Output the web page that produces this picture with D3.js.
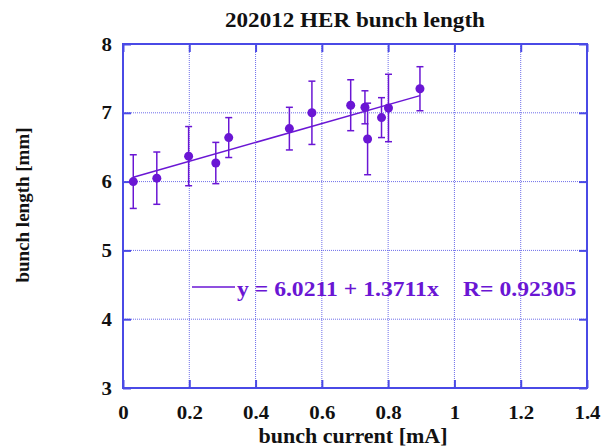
<!DOCTYPE html>
<html><head><meta charset="utf-8">
<script src="https://cdn.jsdelivr.net/npm/d3@7"></script>
<style>body{margin:0;background:#fff}svg{display:block}</style>
</head><body>
<script>
const title = "202012 HER bunch length";
const xLabel = "bunch current [mA]";
const yLabel = "bunch length [mm]";
const current = [0.031, 0.102, 0.198, 0.280, 0.319, 0.502, 0.570, 0.687, 0.730, 0.738, 0.780, 0.801, 0.896];
const length  = [6.00, 6.05, 6.37, 6.27, 6.64, 6.77, 7.00, 7.11, 7.08, 6.62, 6.93, 7.07, 7.35];
const errors  = [0.39, 0.38, 0.43, 0.30, 0.29, 0.31, 0.46, 0.37, 0.24, 0.52, 0.29, 0.49, 0.32];
const fitA = 6.0211, fitB = 1.3711, fitR = 0.92305;
const xTicks = [0, 0.2, 0.4, 0.6, 0.8, 1, 1.2, 1.4];
const yTicks = [3, 4, 5, 6, 7, 8];

const W = 602, H = 446;
const frame = "#4a4ae6", purple = "#6a16d4", serif = '"Liberation Serif", "Times New Roman", serif';
const svg = d3.select("body").append("svg").attr("width", W).attr("height", H);
const L = 123, R = 587, T = 44, B = 388;
const x = d3.scaleLinear().domain([0, 1.4]).range([L, R]);
const y = d3.scaleLinear().domain([3, 8]).range([B, T]);
const STRETCH = 1.1;
function styleText(sel, size, fill, stretch = true) {
  sel.style("font-family", serif).style("font-weight", "bold").attr("font-size", size).attr("fill", fill);
  if (stretch) sel.each(function () {
    const w = this.getComputedTextLength();
    d3.select(this).attr("textLength", w * STRETCH).attr("lengthAdjust", "spacingAndGlyphs");
  });
  return sel;
}

// grid
const g = svg.append("g");
g.selectAll(".gx").data(xTicks.slice(1, -1)).enter().append("line")
  .attr("x1", d => x(d)).attr("x2", d => x(d)).attr("y1", T).attr("y2", B)
  .attr("stroke", frame).attr("stroke-width", 1).attr("stroke-dasharray", "1,1").attr("opacity", 0.8);
g.selectAll(".gy").data(yTicks.slice(1, -1)).enter().append("line")
  .attr("y1", d => y(d)).attr("y2", d => y(d)).attr("x1", L).attr("x2", R)
  .attr("stroke", frame).attr("stroke-width", 1).attr("stroke-dasharray", "1,1").attr("opacity", 0.8);

// axes with inner ticks
const xAx = svg.append("g").attr("transform", `translate(0,${B})`)
  .call(d3.axisBottom(x).tickValues(xTicks).tickSize(-8).tickPadding(18).tickFormat(d => String(d)));
const xAxTop = svg.append("g").attr("transform", `translate(0,${T})`)
  .call(d3.axisTop(x).tickValues(xTicks).tickSize(-8).tickFormat(""));
const yAx = svg.append("g").attr("transform", `translate(${L},0)`)
  .call(d3.axisLeft(y).tickValues(yTicks).tickSize(-8).tickPadding(11).tickFormat(d3.format("d")));
const yAxR = svg.append("g").attr("transform", `translate(${R},0)`)
  .call(d3.axisRight(y).tickValues(yTicks).tickSize(-8).tickFormat(""));
[xAx, xAxTop, yAx, yAxR].forEach(a => {
  a.select(".domain").remove();
  a.selectAll(".tick line").attr("stroke", frame).attr("stroke-width", 2);
  styleText(a.selectAll("text"), 19, "#111");
});
svg.append("rect").attr("x", L).attr("y", T).attr("width", R - L).attr("height", B - T)
  .attr("fill", "none").attr("stroke", frame).attr("stroke-width", 2);

// fit line
const x0 = d3.min(current), x1 = d3.max(current);
svg.append("line").attr("x1", x(x0)).attr("y1", y(fitA + fitB * x0))
  .attr("x2", x(x1)).attr("y2", y(fitA + fitB * x1))
  .attr("stroke", purple).attr("stroke-width", 1.5);

// error bars & points
const pts = current.map((c, i) => ({c, l: length[i], e: errors[i]}));
const eb = svg.append("g").attr("stroke", purple).attr("stroke-width", 1.5);
pts.forEach(p => {
  eb.append("line").attr("x1", x(p.c)).attr("x2", x(p.c)).attr("y1", y(p.l - p.e)).attr("y2", y(p.l + p.e));
  eb.append("line").attr("x1", x(p.c) - 3.5).attr("x2", x(p.c) + 3.5).attr("y1", y(p.l - p.e)).attr("y2", y(p.l - p.e));
  eb.append("line").attr("x1", x(p.c) - 3.5).attr("x2", x(p.c) + 3.5).attr("y1", y(p.l + p.e)).attr("y2", y(p.l + p.e));
});
svg.append("g").selectAll("circle").data(pts).enter().append("circle")
  .attr("cx", d => x(d.c)).attr("cy", d => y(d.l)).attr("r", 4.5).attr("fill", purple);

// legend
svg.append("line").attr("x1", 192).attr("x2", 235).attr("y1", 287).attr("y2", 287)
  .attr("stroke", purple).attr("stroke-width", 1.5);
styleText(svg.append("text").attr("x", 237).attr("y", 295.5).text(`y = ${fitA} + ${fitB}x`), 21.5, purple);
styleText(svg.append("text").attr("x", 463).attr("y", 295.5).text(`R= ${fitR}`), 21.5, purple);

// titles
styleText(svg.append("text").attr("x", 355).attr("y", 27).attr("text-anchor", "middle").text(title), 21, "#111");
styleText(svg.append("text").attr("x", 353).attr("y", 443).attr("text-anchor", "middle").text(xLabel), 20, "#111");
styleText(svg.append("text").attr("transform", "translate(29,205) rotate(-90)").attr("text-anchor", "middle")
  .text(yLabel), 19, "#111", false);
</script>
</body></html>
